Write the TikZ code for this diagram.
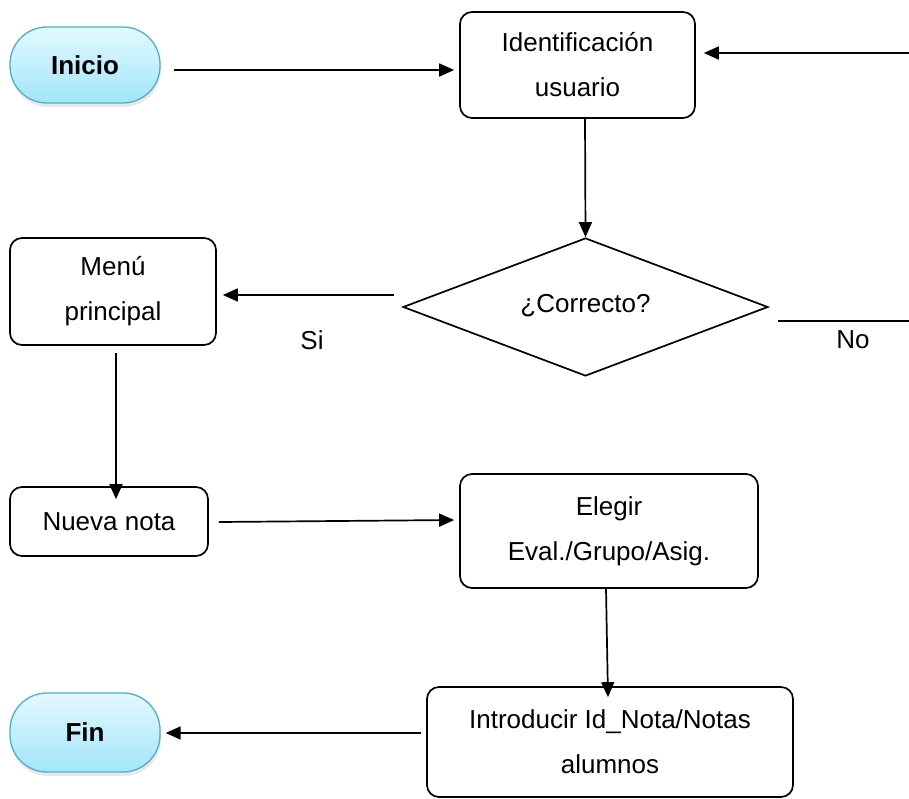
\documentclass[tikz,border=0pt]{standalone}
\usepackage{fontspec}
\setmainfont{Liberation Sans}
\usetikzlibrary{shapes.geometric,arrows.meta,shadows}
\definecolor{pillTop}{HTML}{E4F9FF}
\definecolor{pillBottom}{HTML}{A2E5FA}
\definecolor{pillEdge}{HTML}{4FAFC8}
\tikzset{
  txt/.style={font=\fontsize{26}{45}\selectfont, align=center},
  procbox/.style={txt, draw, line width=1.7pt, rounded corners=12pt, inner sep=0pt},
  pill/.style={font=\fontsize{26}{30}\selectfont\bfseries, draw=pillEdge, line width=1.3pt,
    rounded corners=37pt, top color=pillTop, bottom color=pillBottom, inner sep=0pt,
    drop shadow={opacity=0.18, shadow xshift=1pt, shadow yshift=-4pt}},
  decision/.style={txt, draw, line width=1.7pt, shape=diamond, inner sep=0pt, aspect=2.65},
  arr/.style={line width=1.7pt, -{Triangle[length=15pt,width=13pt]}},
  plain/.style={line width=1.7pt},
  lbl/.style={font=\fontsize{26}{30}\selectfont}
}
\begin{document}
\begin{tikzpicture}[x=1pt,y=-1pt]
  \useasboundingbox (0,0) rectangle (909,798);
  % terminals
  \node[pill, minimum width=150pt, minimum height=76pt] (inicio) at (85,65) {Inicio};
  \node[pill, minimum width=150pt, minimum height=79pt] (fin) at (85,732.5) {Fin};
  % process boxes
  \node[procbox, minimum width=235pt, minimum height=106pt] (ident) at (577.5,65)
    {\raisebox{-2pt}{Identificación}\\\raisebox{-2pt}{usuario}};
  \node[procbox, minimum width=206pt, minimum height=107pt] (menu) at (113,291.5)
    {Menú\\principal};
  \node[procbox, minimum width=198pt, minimum height=69pt] (nueva) at (109,521.5)
    {Nueva nota};
  \node[procbox, minimum width=298pt, minimum height=114pt] (elegir) at (609,531)
    {Elegir\\Eval./Grupo/Asig.};
  \node[procbox, minimum width=366pt, minimum height=110pt] (intro) at (610,742)
    {Introducir Id\_Nota/Notas\\alumnos};
  % decision
  \node[decision, minimum width=365pt, minimum height=138pt] (dec) at (585.5,307)
    {\raisebox{8pt}{¿Correcto?}};
  % free ends of the loop-back lines
  \coordinate (backin) at (909,53);
  \coordinate (noend) at (909,321);
  % connectors
  \draw[arr] ([shift={(13,5)}]inicio.east) -- ([shift={(-5,5)}]ident.west);
  \draw[arr] (backin) -- ([shift={(8,-12)}]ident.east);
  \draw[arr] ([xshift=7.5pt]ident.south) -- (dec.north);
  \draw[arr] ([shift={(-8,-12)}]dec.west) -- ([shift={(6,3.5)}]menu.east);
  \draw[plain] ([shift={(9,14)}]dec.east) -- (noend);
  \draw[arr] ([shift={(3,7)}]menu.south) -- ([shift={(7,13)}]nueva.north);
  \draw[arr] ([shift={(10,0.5)}]nueva.east) -- ([shift={(-5,-11)}]elegir.west);
  \draw[arr] ([xshift=-3pt]elegir.south) -- ([shift={(-2,11)}]intro.north);
  \draw[arr] ([shift={(-5,-9)}]intro.west) -- ([shift={(5,0.5)}]fin.east);
  % branch labels
  \node[lbl] (si) at (312,340) {Si};
  \node[lbl] (no) at (853,340) {No};
\end{tikzpicture}
\end{document}
